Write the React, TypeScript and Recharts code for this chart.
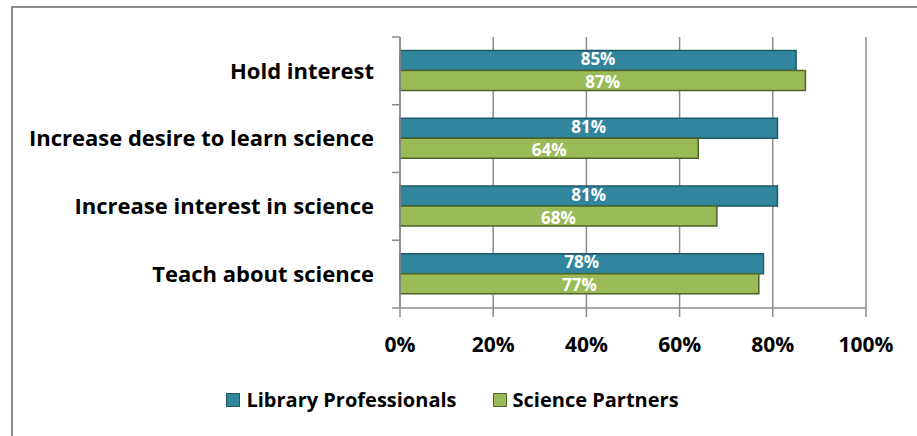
import React from "react";
import {
  BarChart,
  Bar,
  XAxis,
  YAxis,
  CartesianGrid,
  Legend,
  LabelList,
} from "recharts";

const categories = [
  "Hold interest",
  "Increase desire to learn science",
  "Increase interest in science",
  "Teach about science",
];
const libraryProfessionals = [85, 81, 81, 78];
const sciencePartners = [87, 64, 68, 77];
const xTicks = [0, 20, 40, 60, 80, 100];

const data = categories.map((name, i) => ({
  name,
  library: libraryProfessionals[i],
  science: sciencePartners[i],
}));

const W = 917;
const H = 436;
const TOP = 37;
const XAXIS_H = 128;
const PLOT_H = H - TOP - XAXIS_H;
const BAND = PLOT_H / categories.length;
const GRID = "#8c8c8c";
const FONT = "'Open Sans', Lato, sans-serif";

function CategoryTick(props: any) {
  const { y, payload, index } = props;
  const axisX = 400;
  return (
    <g>
      <line x1={axisX - 8} x2={axisX} y1={y - BAND / 2} y2={y - BAND / 2} stroke={GRID} strokeWidth={1.5} />
      {index === categories.length - 1 && (
        <line x1={axisX - 8} x2={axisX} y1={y + BAND / 2} y2={y + BAND / 2} stroke={GRID} strokeWidth={1.5} />
      )}
      <text
        x={374}
        y={y}
        dy="0.35em"
        textAnchor="end"
        fill="#000"
        style={{ fontFamily: FONT, fontWeight: 700, fontSize: 22 }}
      >
        {payload.value}
      </text>
    </g>
  );
}

// value label centred in the bar, nudged a little so stacked labels don't collide
const barLabel = (shift: number) => (props: any) => {
  const { x, y, width, height, value } = props;
  return (
    <text
      x={x + width / 2}
      y={y + height / 2 + shift}
      dy="0.36em"
      textAnchor="middle"
      fill="#fff"
      style={{ fontFamily: FONT, fontWeight: 700, fontSize: 17 }}
    >
      {`${value}%`}
    </text>
  );
};

function LegendBox() {
  const items = [
    { label: "Library Professionals", fill: "#31859c", stroke: "#215968" },
    { label: "Science Partners", fill: "#9bbb59", stroke: "#4f6228" },
  ];
  return (
    <div
      style={{
        display: "flex",
        justifyContent: "center",
        gap: 36,
        fontFamily: FONT,
        fontWeight: 700,
        fontSize: 20,
        color: "#000",
        marginLeft: -12,
      }}
    >
      {items.map((it) => (
        <div key={it.label} style={{ display: "flex", alignItems: "center" }}>
          <span
            style={{
              display: "inline-block",
              width: 12,
              height: 12,
              background: it.fill,
              border: `1.5px solid ${it.stroke}`,
              marginRight: 6,
            }}
          />
          <span>{it.label}</span>
        </div>
      ))}
    </div>
  );
}

export default function App() {
  return (
    <div style={{ position: "absolute", left: 0, top: 0, width: W, height: H, overflow: "hidden", background: "#fff" }}>
      <div
        style={{
          position: "absolute",
          left: 11,
          top: 6,
          width: 920,
          height: 440,
          border: "2px solid #8d8d8d",
        }}
      />
      <div style={{ position: "absolute", left: 0, top: 0 }}>
        <BarChart
          width={W}
          height={H}
          data={data}
          layout="vertical"
          margin={{ top: TOP, right: 51, bottom: 0, left: 0 }}
          barCategoryGap="20%"
          barGap={0}
        >
          <CartesianGrid horizontal={false} stroke={GRID} strokeWidth={1.5} />
          <XAxis
            type="number"
            domain={[0, 100]}
            ticks={xTicks}
            tickFormatter={(v) => `${v}%`}
            height={XAXIS_H}
            tickSize={9}
            tickMargin={20}
            stroke={GRID}
            strokeWidth={1.5}
            tick={{ fill: "#000", fontFamily: FONT, fontWeight: 700, fontSize: 21 }}
          />
          <YAxis
            type="category"
            dataKey="name"
            width={400}
            tickLine={false}
            stroke={GRID}
            strokeWidth={1.5}
            tick={<CategoryTick />}
            interval={0}
          />
          <Legend
            verticalAlign="middle"
            layout="horizontal"
            wrapperStyle={{ top: 386, left: 0, width: W }}
            content={() => <LegendBox />}
          />
          <Bar dataKey="library" name="Library Professionals" fill="#31859c" stroke="#215968" strokeWidth={1.5} isAnimationActive={false}>
            <LabelList dataKey="library" content={barLabel(-1.5)} />
          </Bar>
          <Bar dataKey="science" name="Science Partners" fill="#9bbb59" stroke="#4f6228" strokeWidth={1.5} isAnimationActive={false}>
            <LabelList dataKey="science" content={barLabel(1.5)} />
          </Bar>
        </BarChart>
      </div>
    </div>
  );
}
